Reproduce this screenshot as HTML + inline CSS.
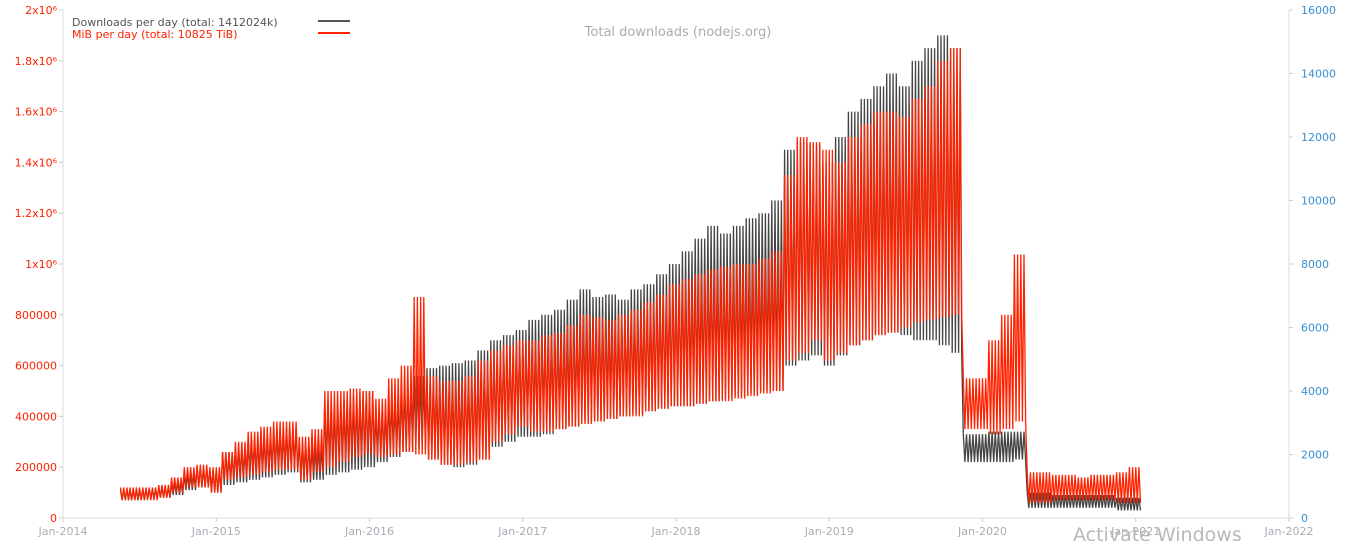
<!DOCTYPE html>
<html><head><meta charset="utf-8"><style>
body{margin:0;background:#fff;width:1363px;height:541px;overflow:hidden;font-family:"DejaVu Sans","Liberation Sans",sans-serif}
svg text{font-family:"DejaVu Sans","Liberation Sans",sans-serif}
</style></head><body>
<svg id="chart" width="1363" height="541" xmlns="http://www.w3.org/2000/svg">
<g id="axes"></g><g id="series"></g>
<text x="678" y="36" font-size="13" fill="#a8acb4" text-anchor="middle">Total downloads (nodejs.org)</text>
<g>
<text x="72" y="26" font-size="11" fill="#555">Downloads per day (total: 1412024k)</text>
<line x1="318" y1="21" x2="350" y2="21" stroke="#555" stroke-width="2"/>
<text x="72" y="38" font-size="11" fill="#ff2200">MiB per day (total: 10825 TiB)</text>
<line x1="318" y1="33" x2="350" y2="33" stroke="#ff2200" stroke-width="2"/>
</g>
<text x="1073" y="541" font-size="19" fill="#b8b8b8">Activate Windows</text>
</svg>
<script>
// monthly starting mid-May 2014; downloads in thousands (weekday highs / weekend lows)
const dlHi=[110,110,115,120,140,170,200,190,
260,280,310,330,350,360,300,280,450,470,480,500,
430,470,520,560,590,600,610,620,660,700,720,740,
780,800,820,860,900,870,880,860,900,920,960,1000,
1050,1100,1150,1120,1150,1180,1200,1250,1450,1480,1470,1400,
1500,1600,1650,1700,1750,1700,1800,1850,1900,1850,330,330,
340,340,340,100,100,90,90,90,90,90,80,80];
const dlLo=[70,70,75,80,90,110,120,100,
130,140,150,160,170,180,140,150,170,180,190,200,
220,240,260,270,230,210,200,210,230,280,300,320,
320,330,350,360,380,380,390,400,410,420,430,440,
440,450,460,470,480,490,500,500,600,620,640,600,
640,680,700,720,730,720,700,700,680,650,220,220,
220,220,230,40,40,40,40,40,40,40,30,30];
// MiB per day
const mibHi=[960,960,960,1040,1280,1600,1680,1600,
2080,2400,2720,2880,3040,3040,2560,2800,4000,4000,4080,4000,
3760,4400,4800,6960,4480,4320,4320,4480,4960,5280,5440,5600,
5600,5760,5840,6080,6400,6320,6240,6400,6560,6800,7040,7360,
7520,7680,7840,7920,8000,8000,8160,8400,10800,12000,11840,11600,
11200,12000,12400,12800,12800,12640,13200,13600,14400,14800,4400,4400,
5600,6400,8300,1440,1440,1360,1360,1280,1360,1360,1440,1600];
const mibLo=[560,560,560,640,800,960,960,800,
1200,1280,1360,1440,1520,1520,1200,1440,1600,1760,1920,2000,
1920,2000,2080,2000,1840,1680,1680,1760,1840,2400,2640,2880,
2720,2720,2800,2880,2960,3040,3120,3200,3200,3360,3440,3520,
3520,3600,3680,3680,3760,3840,3920,4000,4960,5200,5600,4960,
5200,5440,5600,5760,5840,6000,6160,6240,6320,6400,2800,2800,
2640,2800,3040,480,480,560,560,560,560,560,480,480];
const yLeftTicks=["0","200000","400000","600000","800000","1x10⁶","1.2x10⁶","1.4x10⁶","1.6x10⁶","1.8x10⁶","2x10⁶"];
const yRightTicks=["0","2000","4000","6000","8000","10000","12000","14000","16000"];
const xTicks=["Jan-2014","Jan-2015","Jan-2016","Jan-2017","Jan-2018","Jan-2019","Jan-2020","Jan-2021","Jan-2022"];

const L=63,R=1289,T=10,B=518,NS="http://www.w3.org/2000/svg";
const xm=m=>L+(R-L)*m/96;
const yL=v=>B-(B-T)*v/2000;
const yR=v=>B-(B-T)*v/16000;
function el(t,a,p){const e=document.createElementNS(NS,t);for(const k in a)e.setAttribute(k,a[k]);p.appendChild(e);return e;}
const ax=document.getElementById('axes'),se=document.getElementById('series');
el('line',{x1:L,y1:T,x2:L,y2:B,stroke:'#ddd'},ax);
el('line',{x1:R,y1:T,x2:R,y2:B,stroke:'#ddd'},ax);
el('line',{x1:L,y1:B,x2:R,y2:B,stroke:'#ddd'},ax);
yLeftTicks.forEach((t,i)=>{const y=yL(i*200);
 el('line',{x1:L-4,y1:y,x2:L,y2:y,stroke:'#ccc'},ax);
 const tx=el('text',{x:L-6,y:y+4,'font-size':11,fill:'#ff2200','text-anchor':'end'},ax);tx.textContent=t;
 
 });
yRightTicks.forEach((t,i)=>{const y=yR(i*2000);
 el('line',{x1:R,y1:y,x2:R+4,y2:y,stroke:'#ccc'},ax);
 const tx=el('text',{x:R+12,y:y+4,'font-size':11,fill:'#3a8fd0'},ax);tx.textContent=t;
 
 });
xTicks.forEach((t,i)=>{const x=xm(i*12);
 el('line',{x1:x,y1:B,x2:x,y2:B+4,stroke:'#ccc'},ax);
 const tx=el('text',{x:x,y:B+17,'font-size':11,fill:'#a8acb4','text-anchor':'middle'},ax);tx.textContent=t;
 
 });
function draw(hi,lo,ys,col,name){
 let pts=[];
 hi.forEach((h,i)=>{for(let w=0;w<4;w++){const m=4.5+i+w/4;
  pts.push(xm(m).toFixed(1)+','+ys(h).toFixed(1));
  pts.push(xm(m+0.125).toFixed(1)+','+ys(lo[i]).toFixed(1));}});
 const p=el('polyline',{points:pts.join(' '),fill:'none',stroke:col,'stroke-width':1.3},se);
 
 
}
draw(dlHi,dlLo,yL,'#444','downloads-line');
draw(mibHi,mibLo,yR,'#ff2200','mib-line');
</script>
</body></html>
